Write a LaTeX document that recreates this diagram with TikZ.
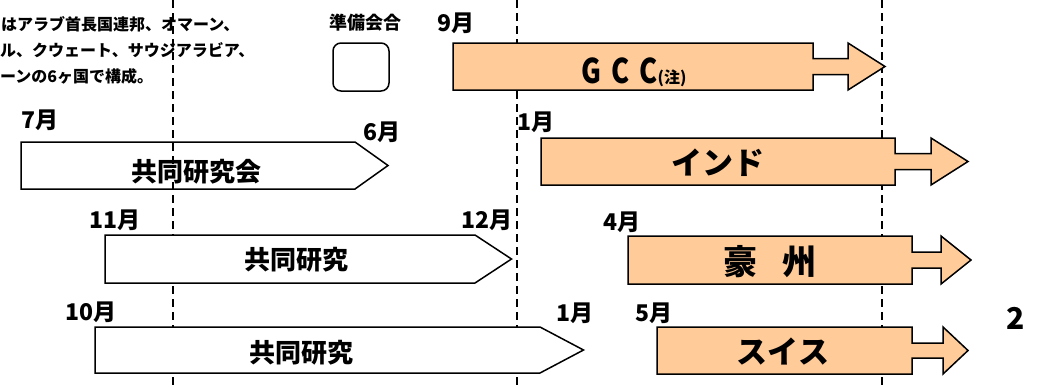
\documentclass[tikz,border=0pt]{standalone}
\usepackage{fontspec}
\newfontfamily\jp{Noto Sans CJK JP}[BoldFont={Noto Sans CJK JP Black}]
\newfontfamily\jpn{Noto Sans CJK JP}[BoldFont={Noto Sans CJK JP Black}, FakeStretch=0.8]
\definecolor{barorange}{HTML}{FFCC99}
\begin{document}
\begin{tikzpicture}[x=1pt, y=-1pt,
  guide/.style={dash pattern=on 8pt off 5pt, line width=1.2pt},
  planbar/.style={draw, line width=1.5pt, fill=barorange},
  studybar/.style={draw, line width=1.5pt, fill=white},
  month/.style={inner sep=0pt, font=\jp\bfseries\fontsize{23}{23}\selectfont},
  barlabel/.style={inner sep=0pt, font=\jp\bfseries\fontsize{26}{26}\selectfont},
  country/.style={inner sep=0pt, font=\jp\bfseries\fontsize{31}{31}\selectfont},
  note/.style={anchor=west, inner sep=0pt, font=\jp\bfseries\fontsize{16}{16}\selectfont}]
\useasboundingbox (0,0) rectangle (1040,386);
\draw[guide] (173,0)--(173,386);
\draw[guide] (517,0)--(517,386);
\draw[guide] (882,0)--(882,386);
% note and legend
\node[note] (note1) at (1,24) {はアラブ首長国連邦、オマーン、};
\node[note] (note2) at (0,50) {ル、クウェート、サウジアラビア、};
\node[note] (note3) at (0,76) {ーンの6ヶ国で構成。};
\node[inner sep=0pt, font=\jp\bfseries\fontsize{18}{18}\selectfont] (legend) at (365,23) {準備会合};
\node[draw, fill=white, line width=1.5pt, rounded corners=8pt, minimum width=56pt, minimum height=48pt] (legendbox) at (361,67) {};
% study bars
\draw[line width=1.5pt] (21,142)--(355,142)--(388,165.5)--(355,189)--(21,189)--cycle;
\draw[studybar] (105,235)--(475,235)--(511.5,259)--(475,283)--(105,283)--cycle;
\draw[studybar] (95,327)--(540,327)--(583.5,350)--(540,373)--(95,373)--cycle;
\node[barlabel] (study0) at (196,172) {共同研究会};
\node[barlabel] (study1) at (296,260) {共同研究};
\node[barlabel] (study2) at (301,353) {共同研究};
% agreement bars
\draw[planbar] (453,43)--(813,43)--(813,58.5)--(848,58.5)--(848,43)--(885,66.5)--(848,90)--(848,74.5)--(813,74.5)--(813,90)--(453,90)--cycle;
\draw[planbar] (541,138)--(895,138)--(895,153.5)--(931,153.5)--(931,138)--(968,161.5)--(931,185)--(931,169.5)--(895,169.5)--(895,185)--(541,185)--cycle;
\draw[planbar] (628,236)--(912,236)--(912,252)--(941,252)--(941,236)--(971,260)--(941,284)--(941,268)--(912,268)--(912,284)--(628,284)--cycle;
\draw[planbar] (657,327)--(912,327)--(912,343)--(943,343)--(943,327)--(968,350.5)--(943,374)--(943,358)--(912,358)--(912,374)--(657,374)--cycle;
\node[inner sep=0pt, anchor=base, font=\jpn\bfseries\fontsize{34}{34}\selectfont] (gcc) at (634,83) {G\hspace{10pt}C\hspace{10pt}C{\jp\fontsize{16}{16}\selectfont(注)}};
\node[country] (india) at (718,163) {インド};
\node[country, font=\jp\bfseries\fontsize{34}{34}\selectfont] (aus) at (770,262) {豪\hspace{26pt}州};
\node[country] (swiss) at (783,352) {スイス};
% months
\node[month] (m-gcc) at (456,23) {9月};
\node[month] (m-s0a) at (40,120) {7月};
\node[month] (m-s0b) at (382,132) {6月};
\node[month] (m-india) at (536,122) {1月};
\node[month] (m-s1a) at (115,220) {11月};
\node[month] (m-s1b) at (487,220) {12月};
\node[month] (m-aus) at (622,222) {4月};
\node[month] (m-s2a) at (91,312) {10月};
\node[month] (m-s2b) at (575,313) {1月};
\node[month] (m-swiss) at (654,313) {5月};
\node[inner sep=0pt, font=\jp\bfseries\fontsize{30}{30}\selectfont] (pageno) at (1016,318) {2};
\end{tikzpicture}
\end{document}
